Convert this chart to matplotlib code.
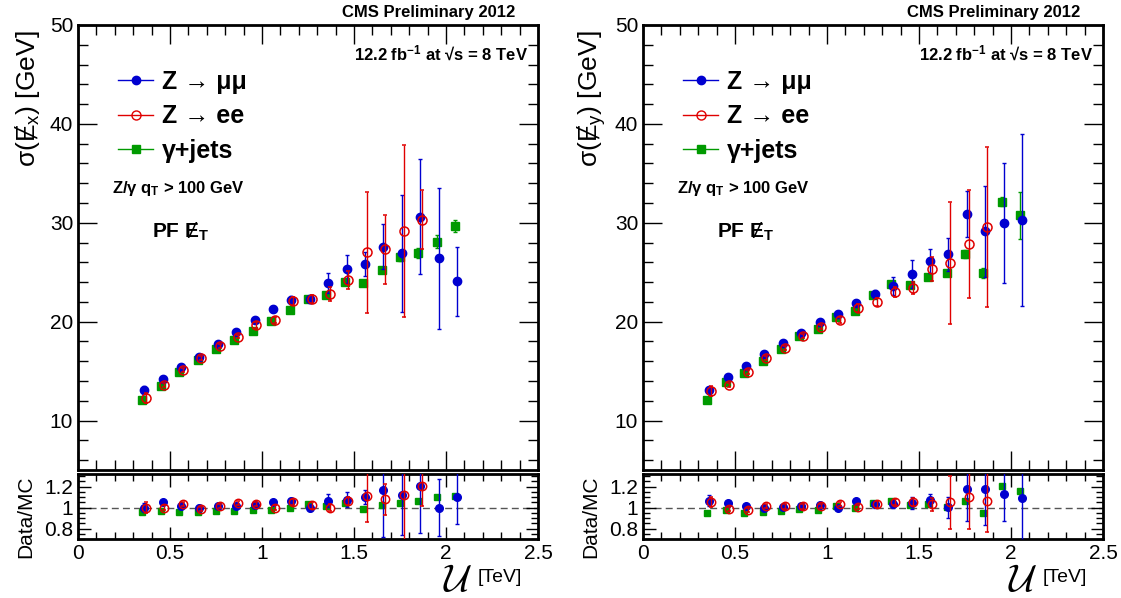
import numpy as np
import matplotlib
matplotlib.use("Agg")
import matplotlib.pyplot as plt
from matplotlib.lines import Line2D
from matplotlib.ticker import MultipleLocator, FormatStrFormatter

plt.rcParams['font.family'] = ['Liberation Sans', 'DejaVu Sans']
plt.rcParams['mathtext.fontset'] = 'custom'
plt.rcParams['mathtext.rm'] = 'Liberation Sans'
plt.rcParams['mathtext.bf'] = 'Liberation Sans:bold'
plt.rcParams['mathtext.it'] = 'Liberation Sans:italic'

# bin centres in U [TeV]
u_bins = [0.35, 0.45, 0.55, 0.65, 0.75, 0.85, 0.95, 1.05, 1.15, 1.25,
          1.35, 1.45, 1.55, 1.65, 1.75, 1.85, 1.95, 2.05]

# ---- sigma(MEx) ----
x_gam = [12.1, 13.5, 14.9, 16.1, 17.2, 18.1, 19.1, 20.1, 21.2, 22.3,
         22.7, 24.0, 23.9, 25.2, 26.5, 26.9, 28.1, 29.7]
x_gam_err = [0.1, 0.1, 0.1, 0.1, 0.1, 0.1, 0.1, 0.15, 0.15, 0.2,
             0.2, 0.25, 0.3, 0.3, 0.4, 0.5, 0.7, 0.6]
x_mm = [13.1, 14.2, 15.45, 16.4, 17.7, 19.0, 20.2, 21.3, 22.15, 22.3,
        23.9, 25.35, 25.8, 27.6, 26.9, 30.6, 26.4, 24.1]
x_mm_err = [0.4, 0.2, 0.2, 0.2, 0.2, 0.2, 0.3, 0.3, 0.4, 0.4,
            1.0, 1.4, 1.2, 2.3, 5.9, 5.8, 7.1, 3.5]
x_ee = [12.3, 13.6, 15.15, 16.3, 17.5, 18.5, 19.7, 20.2, 22.1, 22.3,
        22.8, 24.2, 27.0, 27.3, 29.2, 30.3]
x_ee_err = [0.5, 0.2, 0.2, 0.2, 0.2, 0.2, 0.3, 0.3, 0.4, 0.4,
            0.7, 0.9, 6.1, 3.5, 8.7, 3.0]

x_gam_r = [0.958, 0.965, 0.96, 0.96, 0.965, 0.968, 0.975, 0.98, 1.0, 1.03,
           1.01, 1.04, 0.99, 1.02, 1.04, 1.06, 1.1, 1.11]
x_mm_r = [1.0, 1.055, 1.01, 1.0, 1.015, 1.015, 1.02, 1.05, 1.06, 1.0,
          1.065, 1.075, 1.1, 1.17, 1.12, 1.21, 1.0, 1.1]
x_mm_r_err = [0.04, 0.02, 0.02, 0.02, 0.02, 0.02, 0.02, 0.02, 0.03, 0.03,
              0.06, 0.07, 0.07, 0.45, 0.38, 0.45, 0.27, 0.26]
x_ee_r = [1.0, 1.0, 1.03, 0.985, 1.015, 1.045, 1.03, 1.0, 1.055, 1.02,
          1.0, 1.065, 1.11, 1.077, 1.12, 1.21]
x_ee_r_err = [0.05, 0.02, 0.02, 0.02, 0.02, 0.02, 0.02, 0.02, 0.03, 0.03,
              0.03, 0.04, 0.25, 0.145, 0.45, 0.2]

# ---- sigma(MEy) ----
y_gam = [12.05, 13.94, 14.78, 16.06, 17.24, 18.59, 19.29, 20.47, 21.11, 22.66,
         23.84, 23.74, 24.5, 24.9, 26.87, 24.9, 32.15, 30.74]
y_gam_err = [0.1, 0.1, 0.1, 0.1, 0.1, 0.1, 0.1, 0.15, 0.15, 0.2,
             0.2, 0.25, 0.3, 0.3, 0.4, 0.5, 0.5, 2.35]
y_mm = [13.13, 14.38, 15.49, 16.7, 17.85, 18.82, 20.0, 20.8, 21.89, 22.8,
        23.64, 24.85, 26.16, 26.8, 30.9, 29.16, 29.97, 30.3]
y_mm_err = [0.3, 0.2, 0.2, 0.2, 0.2, 0.2, 0.2, 0.3, 0.3, 0.4,
            0.9, 1.4, 1.2, 1.7, 2.3, 4.6, 6.1, 8.7]
y_ee = [12.96, 13.64, 14.92, 16.36, 17.34, 18.59, 19.5, 20.2, 21.35, 21.99,
        23.0, 23.4, 25.36, 25.93, 27.85, 29.6]
y_ee_err = [0.5, 0.2, 0.2, 0.2, 0.2, 0.2, 0.2, 0.3, 0.4, 0.4,
            0.5, 0.6, 1.2, 6.2, 5.5, 8.1]

y_gam_r = [0.95, 0.98, 0.95, 0.96, 0.965, 0.99, 0.98, 1.01, 1.0, 1.04,
           1.06, 1.02, 1.03, 1.005, 1.06, 0.95, 1.21, 1.16]
y_mm_r = [1.065, 1.045, 1.01, 1.0, 1.005, 1.01, 1.025, 1.0, 1.06, 1.03,
          1.035, 1.045, 1.07, 1.005, 1.175, 1.18, 1.13, 1.09]
y_mm_r_err = [0.05, 0.02, 0.02, 0.02, 0.02, 0.02, 0.02, 0.02, 0.02, 0.03,
              0.04, 0.06, 0.06, 0.1, 0.3, 0.35, 0.26, 0.4]
y_ee_r = [1.055, 0.985, 0.98, 1.015, 1.01, 1.01, 1.015, 1.03, 1.005, 1.03,
          1.05, 1.055, 1.03, 1.05, 1.1, 1.065]
y_ee_r_err = [0.05, 0.02, 0.02, 0.02, 0.02, 0.02, 0.02, 0.02, 0.02, 0.03,
              0.03, 0.04, 0.06, 0.25, 0.3, 0.3]

BLUE = '#0000d0'
RED = '#e00000'
GREEN = '#009a00'

W, H = 1121, 598


def rect(x0, y0, x1, y1):
    return [x0 / W, 1 - y1 / H, (x1 - x0) / W, (y1 - y0) / H]


def style(ax, major_len, minor_len):
    for s in ax.spines.values():
        s.set_linewidth(2)
    ax.tick_params(which='both', direction='in', top=True, right=True, width=1)
    ax.tick_params(which='major', length=major_len, labelsize=15)
    ax.tick_params(which='minor', length=minor_len)
    ax.set_xlim(0, 2.5)
    ax.xaxis.set_major_locator(MultipleLocator(0.5))
    ax.xaxis.set_minor_locator(MultipleLocator(0.1))
    ax.xaxis.set_major_formatter(FormatStrFormatter('%g'))


def draw_points(ax, gam, gam_e, mm, mm_e, ee, ee_e, ms=6):
    u = np.array(u_bins)
    ax.errorbar(u[:len(gam)], gam, yerr=gam_e, fmt='s', color=GREEN, ms=ms - 0.5,
                elinewidth=1, capsize=1.5, zorder=3)
    ax.errorbar(u[:len(mm)] + 0.01, mm, yerr=mm_e, fmt='o', color=BLUE, ms=ms,
                elinewidth=1, capsize=1.5, zorder=4)
    ax.errorbar(u[:len(ee)] + 0.02, ee, yerr=ee_e, fmt='o', color=RED, ms=ms + 0.5,
                mfc='none', mew=1.1, elinewidth=1, capsize=1.5, zorder=5)


def panel(x0, comp, main_vals, ratio_vals):
    shift = x0 - 78
    ax = fig.add_axes(rect(x0, 25, x0 + 460, 470))
    axr = fig.add_axes(rect(x0, 474, x0 + 460, 539))

    style(ax, 14, 7)
    ax.set_ylim(5, 50)
    ax.yaxis.set_major_locator(MultipleLocator(10))
    ax.yaxis.set_minor_locator(MultipleLocator(2))
    ax.tick_params(axis='x', labelbottom=False)
    draw_points(ax, *main_vals)

    style(axr, 9, 5)
    axr.set_ylim(0.7, 1.32)
    axr.yaxis.set_major_locator(MultipleLocator(0.2))
    axr.yaxis.set_minor_locator(MultipleLocator(0.05))
    axr.yaxis.set_major_formatter(FormatStrFormatter('%g'))
    axr.axhline(1.0, color='#555555', ls=(0, (5, 3)), lw=1, zorder=1)
    draw_points(axr, *ratio_vals, ms=5.5)

    handles = [
        Line2D([], [], color=BLUE, marker='o', ms=6, lw=1),
        Line2D([], [], color=RED, marker='o', ms=6.5, mfc='none', lw=1),
        Line2D([], [], color=GREEN, marker='s', ms=5.5, lw=1),
    ]
    labels = ['Z \u2192 \u03bc\u03bc', 'Z \u2192 ee', '\u03b3+jets']
    ax.legend(handles, labels, loc='upper left', bbox_to_anchor=(0.087, 0.90),
              frameon=False, borderpad=0, borderaxespad=0, handlelength=1.4,
              handletextpad=0.35, labelspacing=0.43,
              prop={'size': 18, 'weight': 'bold'})

    fig.text((515 + shift) / W, 1 - 13 / H, 'CMS Preliminary 2012', ha='right',
             va='center', fontsize=12, fontweight='bold')
    fig.text((528 + shift) / W, 1 - 53 / H, '12.2 fb$^{\\mathbf{-1}}$ at \u221as = 8 TeV',
             ha='right', va='center', fontsize=12, fontweight='bold')
    fig.text((112 + shift) / W, 1 - 188 / H, 'Z/\u03b3 q$_{\\mathbf{T}}$ > 100 GeV',
             ha='left', va='center', fontsize=12, fontweight='bold')
    fig.text((152 + shift) / W, 1 - 232 / H, 'PF \u0246$_{\\mathbf{T}}$',
             ha='left', va='center', fontsize=15, fontweight='bold')
    fig.text((27 + shift) / W, 1 - 30 / H, '\u03c3(\u0246$_{\\mathrm{' + comp + '}}$) [GeV]',
             rotation=90, ha='center', va='top', fontsize=19)
    fig.text((26 + shift) / W, 1 - 517 / H, 'Data/MC', rotation=90,
             ha='center', va='center', fontsize=15)
    fig.text((458 + shift) / W, 1 - 581 / H, '$\\mathcal{U}$', ha='center',
             va='center', fontsize=28, math_fontfamily='cm')
    fig.text((478 + shift) / W, 1 - 577 / H, '[TeV]', ha='left', va='center',
             fontsize=14)
    return ax, axr


fig = plt.figure(figsize=(W / 100, H / 100), dpi=100)
panel(78, 'x', (x_gam, x_gam_err, x_mm, x_mm_err, x_ee, x_ee_err),
      (x_gam_r, [0.01] * 18, x_mm_r, x_mm_r_err, x_ee_r, x_ee_r_err))
panel(643, 'y', (y_gam, y_gam_err, y_mm, y_mm_err, y_ee, y_ee_err),
      (y_gam_r, [0.01] * 18, y_mm_r, y_mm_r_err, y_ee_r, y_ee_r_err))

fig.savefig('out.png', dpi=100)
